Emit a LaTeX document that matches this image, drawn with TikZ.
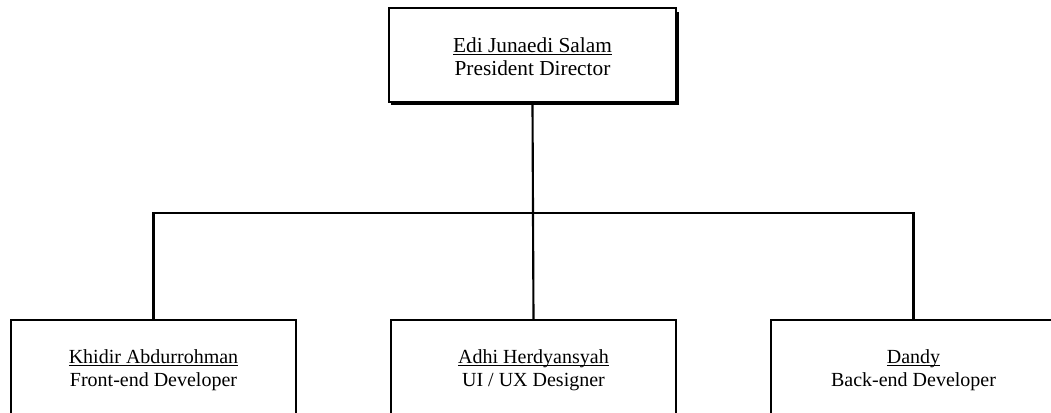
\documentclass[tikz,border=0pt]{standalone}
\usepackage{fontspec}
\setmainfont{Liberation Serif}
\newcommand{\myul}[1]{\setbox0\hbox{#1}\rlap{\rule[-2.2pt]{\wd0}{0.6pt}}\box0}
\newcommand{\twolines}[3]{\raisebox{#1}[\height][\depth]{\begin{tabular}{@{}c@{}}\myul{#2}\\#3\end{tabular}}}
\begin{document}
\begin{tikzpicture}[x=0.75pt,y=-0.75pt,
  box/.style={draw=black,line width=1.6pt,fill=white,rectangle,inner sep=0pt,
    minimum width=215pt},
  topfont/.style={font=\fontsize{16}{17.5}\selectfont},
  subfont/.style={font=\fontsize{15}{17.5}\selectfont},
  conn/.style={draw=black,line width=1.6pt}]
\useasboundingbox (0,0) rectangle (1051,412);
\clip (0,0) rectangle (1051,412);
\renewcommand{\arraystretch}{1.0}
% shadow of top box
\draw[line width=1.4pt] (391,104) -- (678,104) -- (678,12);
\node[box,topfont,minimum width=287*0.75pt,minimum height=94*0.75pt] (top) at (532.5,55)
  {\twolines{-3pt}{Edi Junaedi Salam}{President Director}};
\node[box,subfont,minimum width=285*0.75pt,minimum height=100*0.75pt] (left) at (153.5,370)
  {\twolines{0pt}{Khidir Abdurrohman}{Front-end Developer}};
\node[box,subfont,minimum width=285*0.75pt,minimum height=100*0.75pt] (mid) at (533.5,370)
  {\twolines{0pt}{Adhi Herdyansyah}{UI / UX Designer}};
\node[box,subfont,minimum width=285*0.75pt,minimum height=100*0.75pt] (right) at (913.5,370)
  {\twolines{0pt}{Dandy}{Back-end Developer}};
\coordinate (bus) at (533,213);
\draw[conn] (top.south) -- (bus);
\draw[conn] (left.north) |- (bus) -| (right.north);
\draw[conn] (bus) -- (mid.north);
\end{tikzpicture}
\end{document}
